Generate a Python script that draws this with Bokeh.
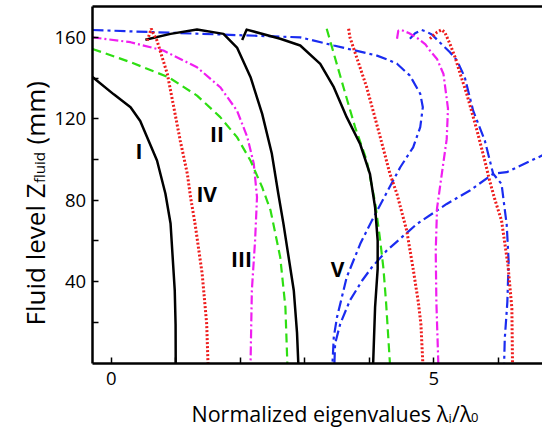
import math
from bokeh.plotting import figure
from bokeh.models import Range1d, FixedTicker, Label, LinearAxis
from bokeh.embed import file_html
from bokeh.resources import INLINE

# ---------------- data ----------------
# black solid curves
blk1_x = [-0.29, 0.04, 0.30, 0.45, 0.71, 0.84, 0.92, 0.985, 0.998, 1.00]
blk1_y = [140.5, 132.0, 125.7, 118.9, 99.5, 83.3, 68.6, 35.7, 19.0, 0.0]
blk2_x = [0.53, 0.92, 1.33, 1.74, 1.95, 2.16, 2.34, 2.49, 2.59, 2.67, 2.83, 2.88, 2.90]
blk2_y = [158.8, 161.7, 163.8, 161.7, 155.0, 140.4, 122.4, 102.8, 83.2, 68.4, 35.7, 15.0, 0.0]
blk3_x = [2.03, 2.10, 2.62, 2.93, 3.24, 3.45, 3.65, 3.86, 4.01, 4.09, 4.13, 4.13, 4.09, 4.06]
blk3_y = [158.7, 163.8, 159.3, 156.0, 147.0, 135.5, 120.8, 107.5, 93.0, 76.6, 60.2, 46.3, 27.5, 0.0]
# green dashed curves
grn1_x = [-0.29, 0.30, 0.89, 1.33, 1.69, 1.95, 2.16, 2.34, 2.47, 2.62, 2.70, 2.73]
grn1_y = [154.3, 147.8, 140.4, 131.4, 120.8, 111.0, 99.4, 86.4, 75.0, 52.0, 27.5, 0.0]
grn2_x = [3.34, 3.60, 3.78, 3.96, 4.09, 4.17, 4.22, 4.26, 4.32]
grn2_y = [164.2, 135.5, 115.9, 99.5, 79.0, 60.2, 46.3, 30.0, 0.0]
# magenta dash-dot curves
mag1_x = [-0.29, 0.30, 0.81, 1.33, 1.69, 1.95, 2.11, 2.21, 2.26, 2.23, 2.18, 2.16]
mag1_y = [160.0, 157.6, 153.5, 145.3, 135.5, 124.0, 111.0, 97.9, 81.5, 60.2, 35.7, 0.0]
mag2_x = [4.43, 4.45, 4.50, 4.62, 4.76, 4.87, 4.94, 5.05, 5.15, 5.22, 5.20, 5.12, 5.05, 5.03, 5.04, 5.07]
mag2_y = [159.3, 163.3, 163.6, 162.0, 159.3, 156.5, 153.5, 149.4, 142.0, 125.0, 110.0, 92.0, 76.0, 55.0, 30.0, 0.0]
# red dotted curves
red1_x = [0.56, 0.62, 0.71, 0.87, 0.97, 1.07, 1.18, 1.23, 1.30, 1.41, 1.48, 1.50]
red1_y = [158.4, 164.2, 158.4, 142.0, 125.7, 109.3, 93.0, 81.5, 68.4, 43.9, 19.3, 0.0]
red2_x = [3.68, 3.70, 3.96, 4.17, 4.32, 4.43, 4.58, 4.68, 4.76, 4.80, 4.83]
red2_y = [164.2, 160.0, 135.5, 111.0, 93.0, 83.0, 65.1, 46.3, 30.0, 19.3, 0.0]
red3_x = [4.94, 5.05, 5.12, 5.17, 5.25, 5.33, 5.41, 5.51, 5.67, 5.79, 5.87, 5.95, 6.05, 6.15, 6.21, 6.22]
red3_y = [159.3, 162.5, 163.7, 162.5, 156.8, 150.2, 142.0, 132.3, 114.2, 99.5, 89.0, 80.0, 70.0, 48.0, 27.0, 0.0]
# blue dash-dot curves
blu1_x = [-0.29, 2.93, 3.45, 4.12, 4.29, 4.43, 4.63, 4.79, 4.83, 4.79, 4.68, 4.48, 4.30, 4.04, 3.86, 3.65, 3.50, 3.45, 3.43]
blu1_y = [163.6, 160.0, 156.0, 151.0, 149.0, 147.0, 141.2, 132.3, 125.7, 115.9, 106.0, 96.2, 85.5, 70.0, 58.6, 42.2, 22.6, 12.8, 0.0]
blu2_x = [3.46, 3.47, 3.55, 3.70, 3.89, 4.04, 4.27, 4.74, 5.20, 5.56, 5.92, 6.13, 6.70]
blu2_y = [0.0, 9.5, 19.3, 30.8, 40.6, 47.1, 55.3, 68.4, 78.2, 84.8, 93.0, 93.8, 102.3]
blu3_x = [4.63, 4.71, 4.81, 4.87, 4.97, 5.17, 5.25, 5.36, 5.48, 5.61, 5.79, 5.92, 6.05, 6.13, 6.16, 6.14, 6.10, 6.09]
blu3_y = [159.3, 162.0, 163.6, 163.0, 161.4, 155.1, 152.7, 148.6, 140.4, 124.0, 109.4, 93.0, 88.0, 68.0, 50.0, 30.0, 12.0, 0.0]

# curve labels
lab_text = ["I", "II", "IV", "III", "V"]
lab_x = [0.43, 1.64, 1.48, 2.02, 3.51]
lab_y = [104.4, 112.6, 83.1, 51.2, 46.3]

x_major = [0, 5]
x_minor = [1, 2, 3, 4, 6]
y_major = [40, 80, 120, 160]
y_minor = [20, 60, 100, 140]

# ---------------- figure ----------------
W, H = 542, 427
# data coordinates at the canvas edges (frame covers the whole canvas;
# the axes sit at fixed data locations inside it)
XL, XR = -1.7157, 6.6848
YB, YT = -31.57, 178.08
XA = -0.2945      # x where the y axis stands
YTOP = 175.0      # top border

p = figure(width=W, height=H, x_range=Range1d(XL, XR), y_range=Range1d(YB, YT),
           output_backend="svg", toolbar_location=None, min_border=0)
p.xgrid.visible = False
p.ygrid.visible = False
p.outline_line_color = None
p.background_fill_color = "white"
p.border_fill_color = "white"

FONT = "Open Sans"

p.xaxis.fixed_location = 0
p.xaxis.bounds = (XA, XR)
p.yaxis.fixed_location = XA
p.yaxis.bounds = (0, YTOP)

for ax, maj, mnr in ((p.xaxis, x_major, x_minor), (p.yaxis, y_major, y_minor)):
    ax.ticker = FixedTicker(ticks=maj, minor_ticks=mnr)
    ax.axis_line_width = 2.5
    ax.axis_line_color = "black"
    ax.major_tick_in = 6
    ax.major_tick_out = 0
    ax.minor_tick_in = 6
    ax.minor_tick_out = 0
    ax.major_tick_line_width = 1.5
    ax.minor_tick_line_width = 1.5
    ax.major_label_text_font = FONT
    ax.major_label_text_font_size = "18.5px"
    ax.major_label_text_color = "black"
p.xaxis.major_label_standoff = 9
p.yaxis.major_label_standoff = 6

top_axis = LinearAxis(fixed_location=YTOP, bounds=(XA, XR), ticker=FixedTicker(ticks=[]),
                      axis_line_width=2.5, axis_line_color="black",
                      major_tick_line_color=None, minor_tick_line_color=None,
                      major_label_text_font_size="0px")
p.add_layout(top_axis, "above")

BLUE = "#1a2cf0"
MAG = "#f01ef0"
GRN = "#2ede12"
RED = "#ee1c1c"

for xs, ys in ((blu1_x, blu1_y), (blu2_x, blu2_y), (blu3_x, blu3_y)):
    p.line(xs, ys, line_color=BLUE, line_width=2.2, line_dash="11 4 3 4")
for xs, ys in ((mag1_x, mag1_y), (mag2_x, mag2_y)):
    p.line(xs, ys, line_color=MAG, line_width=2.2, line_dash="9 3 2 3")
for xs, ys in ((grn1_x, grn1_y), (grn2_x, grn2_y)):
    p.line(xs, ys, line_color=GRN, line_width=2.2, line_dash="9 5")
for xs, ys in ((blk1_x, blk1_y), (blk2_x, blk2_y), (blk3_x, blk3_y)):
    p.line(xs, ys, line_color="black", line_width=2.5, line_join="round")
for xs, ys in ((red1_x, red1_y), (red2_x, red2_y), (red3_x, red3_y)):
    p.line(xs, ys, line_color=RED, line_width=3, line_dash="2 2")

for t, lx, ly in zip(lab_text, lab_x, lab_y):
    p.add_layout(Label(x=lx, y=ly, text=t, text_font=FONT, text_font_style="bold",
                       text_font_size="21px", text_align="center", text_baseline="middle",
                       text_color="black"))

# helpers: picture pixel -> data coordinates (for placing axis titles)
def dx(px):
    return XL + px / W * (XR - XL)

def dy(py):
    return YT - py / H * (YT - YB)

def txt(x, y, s, size, angle=0.0):
    p.add_layout(Label(x=x, y=y, text=s, text_font=FONT, text_font_size=size,
                       text_align="left", text_baseline="alphabetic", angle=angle,
                       text_color="black"))

# x axis title: Normalized eigenvalues λ_i/λ_0
base = 413
txt(dx(191), dy(base), "Normalized eigenvalues λ", "21.5px")
txt(dx(448), dy(base + 4), "i", "13px")
txt(dx(451.5), dy(base), "/λ", "21.5px")
txt(dx(470.5), dy(base + 4), "0", "13px")

# y axis title: Fluid level Z_fluid (mm)
bx = 34
a = math.pi / 2
txt(dx(bx), dy(325), "Fluid level Z", "26px", a)
txt(dx(bx + 4.5), dy(182.5), "fluid", "15px", a)
txt(dx(bx), dy(144), "(mm)", "26px", a)

open("out.html", "w").write(file_html(p, INLINE))
